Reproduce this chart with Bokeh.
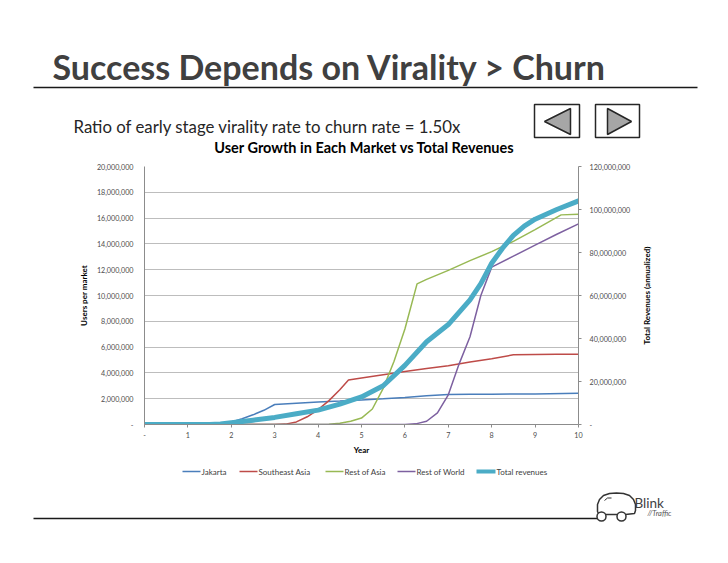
from math import pi
from bokeh.plotting import figure
from bokeh.models import Range1d, LinearAxis, FixedTicker, NumeralTickFormatter
from bokeh.layouts import column, row
from bokeh.embed import file_html
from bokeh.resources import INLINE
from bokeh.core.properties import value

FONT = "Lato"
W = 728

# ---------------- data ----------------
jakarta_years = [0, 1, 1.5, 1.75, 2, 2.25, 2.5, 2.75, 3, 3.5, 4, 4.5, 5, 5.5, 6, 6.5, 7, 7.5, 8, 9, 10]
jakarta_users = [0, 0, 0, 0.02e6, 0.2e6, 0.45e6, 0.75e6, 1.1e6, 1.55e6, 1.65e6, 1.75e6, 1.82e6, 1.9e6,
                 1.99e6, 2.1e6, 2.22e6, 2.33e6, 2.34e6, 2.35e6, 2.37e6, 2.42e6]

sea_years = [0, 3, 3.25, 3.5, 3.75, 4, 4.25, 4.5, 4.7, 5, 5.5, 6, 6.5, 7, 7.5, 8, 8.5, 9, 9.5, 10]
sea_users = [0, 0, 0.03e6, 0.2e6, 0.6e6, 1.15e6, 1.85e6, 2.7e6, 3.45e6, 3.6e6, 3.85e6, 4.1e6, 4.35e6,
             4.55e6, 4.85e6, 5.1e6, 5.4e6, 5.42e6, 5.44e6, 5.45e6]

roa_years = [0, 4, 4.25, 4.5, 4.75, 5, 5.25, 5.5, 5.75, 6, 6.28, 6.5, 7, 7.5, 8, 8.5, 9, 9.6, 10]
roa_users = [0, 0, 0.02e6, 0.1e6, 0.25e6, 0.5e6, 1.2e6, 2.8e6, 4.9e6, 7.4e6, 10.9e6, 11.25e6, 11.95e6,
             12.7e6, 13.4e6, 14.2e6, 15.1e6, 16.25e6, 16.3e6]

row_years = [0, 6, 6.25, 6.5, 6.75, 7, 7.25, 7.5, 7.75, 8, 8.5, 9, 9.5, 10]
row_users = [0, 0, 0.05e6, 0.25e6, 0.9e6, 2.3e6, 4.7e6, 6.8e6, 10.0e6, 12.2e6, 13.05e6, 13.9e6,
             14.75e6, 15.55e6]

rev_years = [0, 1.5, 1.75, 2, 2.5, 3, 3.5, 4, 4.5, 5, 5.5, 6, 6.5, 7, 7.5, 7.75, 8, 8.25, 8.5, 8.75,
             9, 9.5, 10]
total_revenues = [0, 0, 0.2e6, 0.8e6, 2.0e6, 3.3e6, 5.0e6, 6.7e6, 9.5e6, 12.8e6, 18.0e6, 27.5e6,
                  38.5e6, 46.5e6, 58e6, 65.5e6, 75e6, 82e6, 88e6, 92.3e6, 95.5e6, 100e6, 104e6]

series_names = ["Jakarta", "Southeast Asia", "Rest of Asia", "Rest of World", "Total revenues"]
series_colors = ["#4A7EBB", "#BE4B48", "#98B954", "#7D60A0", "#4BACC6"]
series_widths = [1.5, 1.5, 1.5, 1.5, 5]
series_x = [jakarta_years, sea_years, roa_years, row_years, rev_years]
series_y = [jakarta_users, sea_users, roa_users, row_users, total_revenues]

user_ticks = list(range(0, 20_000_001, 2_000_000))
rev_ticks = list(range(0, 120_000_001, 20_000_000))
year_ticks = list(range(0, 11))

title_text = "Success Depends on Virality > Churn"
subtitle_text = "Ratio of early stage virality rate to churn rate = 1.50x"
chart_title = "User Growth in Each Market vs Total Revenues"
y_label = "Users per market"
y2_label = "Total Revenues (annualized)"
x_label = "Year"


def blank(width, x0, y0, y1):
    f = figure(width=width, height=y1 - y0, x_range=Range1d(x0, x0 + width), y_range=Range1d(y1, y0),
               output_backend="svg", toolbar_location=None, min_border=0,
               x_axis_location=None, y_axis_location=None, frame_align=False)
    f.grid.visible = False
    f.outline_line_color = None
    f.background_fill_color = "white"
    f.border_fill_color = "white"
    return f


# ---------------- header ----------------
H_BOT = 160
head = blank(W, 0, 0, H_BOT)
head.text(x=[52], y=[65.5], text=[title_text], text_font=value(FONT), text_font_style="bold",
          text_font_size="34px", text_color="#404040", text_baseline="middle")
head.line([33, 697], [87, 87], line_color="#1a1a1a", line_width=1.5)
head.text(x=[73], y=[125.5], text=[subtitle_text], text_font=value(FONT),
          text_font_size="16.8px", text_color="#262626", text_baseline="middle")
head.text(x=[364], y=[147], text=[chart_title], text_font=value(FONT), text_font_style="bold",
          text_font_size="14.5px", text_color="#000000", text_align="center",
          text_baseline="middle")
head.quad(left=[534, 595], right=[579, 639], top=[104, 104], bottom=[137, 137],
          fill_color=None, line_color="#262626", line_width=1.5)
head.patches(xs=[[544, 570, 570], [631, 607, 607]], ys=[[121, 108, 134], [121, 108, 134]],
             fill_color="#a6a6a6", line_color="#262626", line_width=1.5)

# ---------------- chart ----------------
C_TOP, C_BOT = H_BOT, 464
FR_L, FR_R, FR_T, FR_B = 144, 578, 166, 424
CW = 640
chart = figure(width=CW, height=C_BOT - C_TOP, x_range=Range1d(0, 10), y_range=Range1d(0, 20e6),
               output_backend="svg", toolbar_location=None, frame_align=False,
               min_border_left=FR_L, min_border_right=CW - FR_R,
               min_border_top=FR_T - C_TOP, min_border_bottom=C_BOT - FR_B)
chart.outline_line_color = None
chart.extra_y_ranges = {"rev": Range1d(0, 120e6)}

chart.xgrid.visible = False
chart.ygrid.ticker = FixedTicker(ticks=user_ticks)
chart.ygrid.grid_line_color = "#bdbdbd"
chart.ygrid.grid_line_width = 1

TICK_COLOR = "#4d4d4d"
for ax in (chart.xaxis[0], chart.yaxis[0]):
    ax.axis_line_color = "#8c8c8c"
    ax.major_tick_line_color = "#8c8c8c"
    ax.minor_tick_line_color = None
    ax.major_label_text_font = FONT
    ax.major_label_text_font_size = "7.2px"
    ax.major_label_text_color = TICK_COLOR
    ax.axis_label_text_font = FONT
    ax.axis_label_text_font_style = "bold"
    ax.axis_label_text_font_size = "8px"
    ax.axis_label_text_color = "#000000"

xa = chart.xaxis[0]
xa.ticker = FixedTicker(ticks=year_ticks)
xa.major_label_overrides = {0: "-"}
xa.major_tick_out = 3
xa.major_tick_in = 0
xa.major_label_standoff = 4
xa.axis_label = x_label
xa.axis_label_standoff = 4

ya = chart.yaxis[0]
ya.ticker = FixedTicker(ticks=user_ticks)
ya.formatter = NumeralTickFormatter(format="0,0")
ya.major_label_overrides = {0: "-"}
ya.major_tick_out = 0
ya.major_tick_in = 0
ya.major_label_standoff = 11
ya.axis_label = y_label
ya.axis_label_standoff = 5

ra = LinearAxis(y_range_name="rev", ticker=FixedTicker(ticks=rev_ticks),
                formatter=NumeralTickFormatter(format="0,0"))
ra.major_label_overrides = {0: "-"}
ra.axis_line_color = "#8c8c8c"
ra.major_tick_line_color = "#8c8c8c"
ra.minor_tick_line_color = None
ra.major_tick_out = 3
ra.major_tick_in = 0
ra.major_label_standoff = 8
ra.major_label_text_font = FONT
ra.major_label_text_font_size = "7.2px"
ra.major_label_text_color = TICK_COLOR
chart.add_layout(ra, "right")

for i in range(4):
    chart.line(series_x[i], series_y[i], line_color=series_colors[i], line_width=series_widths[i])
chart.line(series_x[4], series_y[4], line_color=series_colors[4], line_width=series_widths[4],
           y_range_name="rev", line_cap="round", line_join="round")

# side strip holding the secondary axis title (reads bottom-to-top)
side = blank(W - CW, CW, C_TOP, C_BOT)
side.text(x=[646], y=[(FR_T + FR_B) / 2], text=[y2_label], angle=pi / 2, text_font=value(FONT),
          text_font_style="bold", text_font_size="8px", text_color="#000000",
          text_align="center", text_baseline="middle")

# ---------------- footer (legend, rule, logo) ----------------
foot = blank(W, 0, C_BOT, 563)
leg_x = [182, 239, 325, 397, 476]
leg_y = 471
for i, name in enumerate(series_names):
    sw = 19 if i == 4 else 18
    foot.line([leg_x[i], leg_x[i] + sw], [leg_y, leg_y], line_color=series_colors[i],
              line_width=series_widths[i] if i < 4 else 4)
    foot.text(x=[leg_x[i] + sw + 1], y=[leg_y], text=[name], text_font=value(FONT),
              text_font_size="8px", text_color="#404040", text_baseline="middle")

foot.line([33, 597], [518, 518], line_color="#1a1a1a", line_width=1.5)
# logo: car outline + wheels + wordmark
foot.line([605, 617], [514, 514], line_color="#333333", line_width=1.5)
foot.line([625, 634, 635, 635, 633, 629, 623, 616, 609, 603, 599, 597, 597, 598],
          [514, 513, 510, 504, 499, 495, 493, 492.5, 493, 495, 499, 504, 511, 513],
          line_color="#333333", line_width=1.5)
foot.line([604, 607, 611], [500, 497.5, 497.5], line_color="#333333", line_width=1)
foot.scatter([601, 621], [516, 516], size=9, marker="circle", fill_color="white",
             line_color="#333333", line_width=1.5)
foot.text(x=[634], y=[502.5], text=["Blink"], text_font=value(FONT), text_font_size="13.5px",
          text_color="#404040", text_baseline="middle")
foot.text(x=[647], y=[513], text=["//Traffic"], text_font=value(FONT), text_font_style="italic",
          text_font_size="7.5px", text_color="#555555", text_baseline="middle")

layout = column(head, row(chart, side, spacing=0), foot, spacing=0)
open("out.html", "w").write(file_html(layout, INLINE))
